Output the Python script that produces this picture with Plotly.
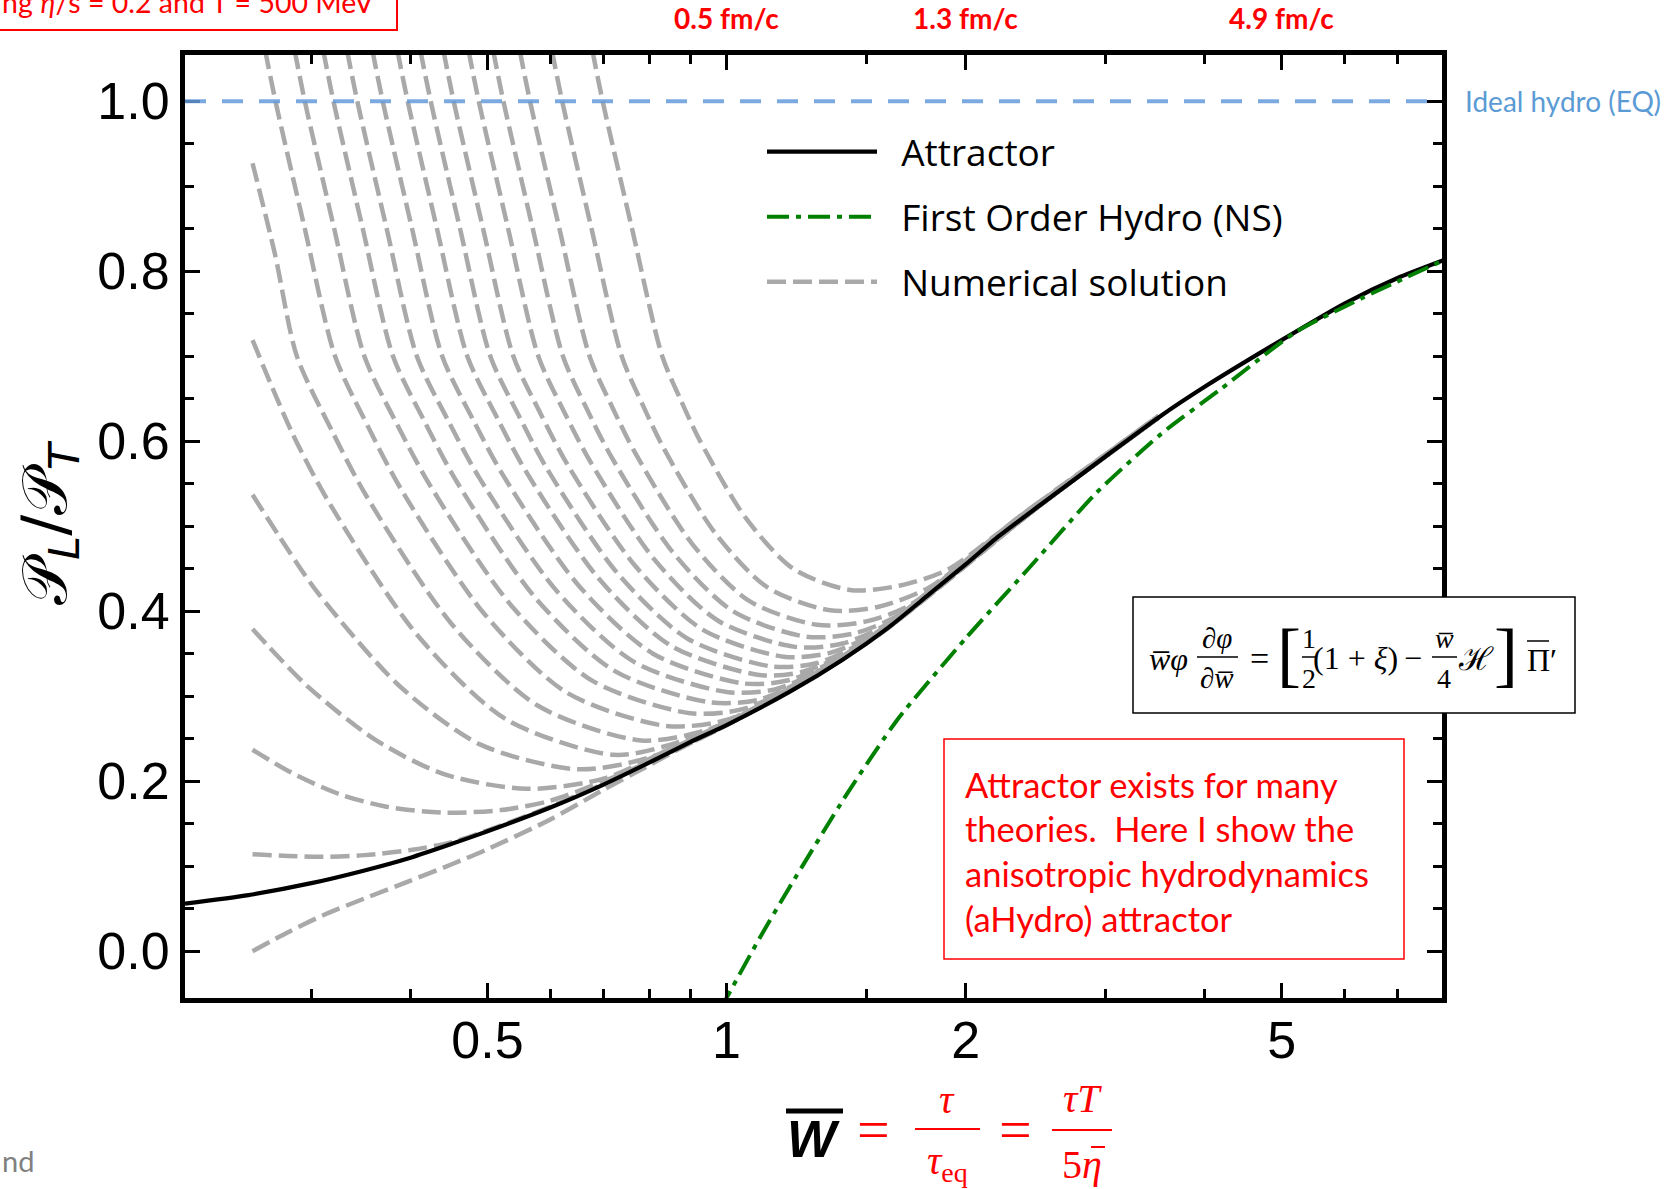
import math
import plotly.graph_objects as go

# ---------------- data ----------------
# Attractor (black solid)
ATT_W = [0.208, 0.25, 0.3, 0.35, 0.4, 0.45, 0.5, 0.6, 0.7, 0.8, 0.9, 1.0, 1.2, 1.4, 1.6,
         1.8, 2.0, 2.2, 2.5, 3.0, 3.5, 4.0, 5.0, 6.0, 7.0, 8.0]
ATT_P = [0.056, 0.066, 0.080, 0.095, 0.110, 0.126, 0.141, 0.169, 0.196, 0.222, 0.246, 0.266,
         0.305, 0.343, 0.381, 0.420, 0.455, 0.488, 0.527, 0.582, 0.628, 0.664, 0.719, 0.762,
         0.792, 0.813]

# First order hydro (Navier-Stokes, green dash-dot)
NS_W = [0.98, 1.1, 1.2, 1.42, 1.64, 2.0, 2.41, 2.92, 3.53, 4.2, 5.2, 6.3, 8.0]
NS_P = [-0.07, 0.015, 0.075, 0.186, 0.272, 0.368, 0.452, 0.539, 0.609, 0.662, 0.728, 0.768, 0.813]

# Numerical solutions (grey dashed)
NUM01_W = [0.253, 0.28, 0.31, 0.35, 0.4, 0.45, 0.5, 0.6, 0.7, 0.8, 0.9, 1.0, 1.5, 2.5, 3.5]
NUM01_P = [0.0, 0.022, 0.042, 0.062, 0.083, 0.102, 0.120, 0.155, 0.19, 0.219, 0.245, 0.266, 0.362, 0.527, 0.628]
NUM02_W = [0.253, 0.28, 0.31, 0.35, 0.4, 0.45, 0.5, 0.6, 0.7, 0.8, 1.0, 1.5, 2.5, 3.5]
NUM02_P = [0.114, 0.112, 0.111, 0.113, 0.119, 0.128, 0.142, 0.170, 0.197, 0.222, 0.266, 0.362, 0.527, 0.628]
NUM03_W = [0.253, 0.2832, 0.3249, 0.373, 0.44, 0.52, 0.6, 0.7, 0.8, 1.0, 1.5, 2.5, 3.5]
NUM03_P = [0.237, 0.210, 0.185, 0.170, 0.163, 0.166, 0.177, 0.200, 0.223, 0.266, 0.362, 0.527, 0.628]
NUM04_W = [0.253, 0.2972, 0.3622, 0.4416, 0.56, 0.7, 0.85, 1.0, 1.3, 1.6, 2.0, 2.5, 3.5]
NUM04_P = [0.379, 0.311, 0.248, 0.208, 0.191, 0.203, 0.238, 0.267, 0.325, 0.381, 0.455, 0.527, 0.628]
NUM05_W = [0.253, 0.2787, 0.3061, 0.3874, 0.49, 0.65, 0.8, 1.0, 1.3, 1.6, 2.0, 2.5, 3.5]
NUM05_P = [0.537, 0.476, 0.421, 0.312, 0.243, 0.214, 0.228, 0.27, 0.325, 0.381, 0.455, 0.527, 0.628]
NUM06_W = [0.253, 0.2834, 0.3144, 0.4071, 0.5272, 0.72, 0.85, 1.05, 1.4, 2.0, 2.5, 3.5]
NUM06_P = [0.719, 0.611, 0.531, 0.373, 0.273, 0.231, 0.243, 0.278, 0.344, 0.455, 0.527, 0.628]
NUM07_W = [0.253, 0.27, 0.2877, 0.3178, 0.3512, 0.4506, 0.5782, 0.78, 0.95, 1.15, 1.6, 2.0, 2.5, 3.5]
NUM07_P = [0.927, 0.82, 0.70, 0.614, 0.537, 0.385, 0.289, 0.248, 0.261, 0.298, 0.382, 0.455, 0.527, 0.628]
NUM08_W = [0.2624, 0.2704, 0.2944, 0.3214, 0.3537, 0.3895, 0.4953, 0.6296, 0.84, 1.0, 1.2, 1.6, 2.0, 2.5, 3.5]
NUM08_P = [1.06, 1.0, 0.85, 0.7, 0.617, 0.543, 0.397, 0.304, 0.265, 0.272, 0.307, 0.382, 0.455, 0.527, 0.628]
NUM09_W = [0.2858, 0.2944, 0.3206, 0.3499, 0.3846, 0.4227, 0.5353, 0.6779, 0.90, 1.05, 1.25, 1.6, 2.0, 2.5, 3.5]
NUM09_P = [1.06, 1.0, 0.85, 0.7, 0.620, 0.549, 0.407, 0.318, 0.28, 0.285, 0.318, 0.382, 0.455, 0.527, 0.628]
NUM10_W = [0.3105, 0.3199, 0.3483, 0.3802, 0.4167, 0.4566, 0.5741, 0.7215, 0.95, 1.1, 1.3, 1.7, 2.0, 2.5, 3.5]
NUM10_P = [1.06, 1.0, 0.85, 0.7, 0.623, 0.5535, 0.416, 0.330, 0.293, 0.296, 0.328, 0.402, 0.456, 0.527, 0.628]
NUM11_W = [0.3327, 0.3428, 0.3733, 0.4074, 0.4457, 0.4875, 0.6102, 0.7638, 1.0, 1.15, 1.35, 1.7, 2.0, 2.5, 3.5]
NUM11_P = [1.06, 1.0, 0.85, 0.7, 0.625, 0.558, 0.4245, 0.3406, 0.305, 0.308, 0.337, 0.403, 0.456, 0.527, 0.628]
NUM12_W = [0.3581, 0.3690, 0.4018, 0.4385, 0.4785, 0.5223, 0.6495, 0.8079, 1.05, 1.2, 1.4, 1.75, 2.0, 2.5, 3.5]
NUM12_P = [1.06, 1.0, 0.85, 0.7, 0.627, 0.561, 0.4315, 0.350, 0.315, 0.319, 0.347, 0.412, 0.457, 0.528, 0.628]
NUM13_W = [0.3850, 0.3967, 0.4319, 0.4716, 0.5132, 0.5585, 0.6903, 0.8531, 1.10, 1.25, 1.45, 1.8, 2.1, 2.5, 3.5]
NUM13_P = [1.06, 1.0, 0.85, 0.7, 0.629, 0.565, 0.4384, 0.3588, 0.325, 0.329, 0.356, 0.423, 0.473, 0.528, 0.628]
NUM14_W = [0.4115, 0.4241, 0.4618, 0.5041, 0.5469, 0.5933, 0.7278, 0.8924, 1.14, 1.3, 1.5, 1.85, 2.1, 2.5, 3.5]
NUM14_P = [1.06, 1.0, 0.85, 0.7, 0.631, 0.5686, 0.4454, 0.3679, 0.335, 0.339, 0.366, 0.432, 0.474, 0.529, 0.628]
NUM15_W = [0.4399, 0.4533, 0.4937, 0.5389, 0.5828, 0.6303, 0.7671, 0.9329, 1.18, 1.35, 1.55, 1.9, 2.2, 2.5, 3.5]
NUM15_P = [1.06, 1.0, 0.85, 0.7, 0.633, 0.5727, 0.4534, 0.3783, 0.3465, 0.351, 0.376, 0.442, 0.490, 0.529, 0.628]
NUM16_W = [0.4732, 0.4875, 0.5309, 0.5794, 0.6241, 0.6727, 0.8100, 0.9759, 1.22, 1.4, 1.6, 1.95, 2.2, 2.5, 3.5]
NUM16_P = [1.06, 1.0, 0.85, 0.7, 0.635, 0.577, 0.4615, 0.3888, 0.358, 0.362, 0.386, 0.450, 0.491, 0.530, 0.629]
NUM17_W = [0.5082, 0.5236, 0.5702, 0.6223, 0.6677, 0.7165, 0.8548, 1.0198, 1.26, 1.45, 1.65, 2.0, 2.25, 2.6, 3.5]
NUM17_P = [1.06, 1.0, 0.85, 0.7, 0.637, 0.5812, 0.4698, 0.3997, 0.370, 0.374, 0.396, 0.459, 0.499, 0.542, 0.629]
NUM18_W = [0.5489, 0.5656, 0.6160, 0.6722, 0.7180, 0.7673, 0.9045, 1.0666, 1.30, 1.5, 1.7, 2.05, 2.3, 2.6, 3.5]
NUM18_P = [1.06, 1.0, 0.85, 0.7, 0.640, 0.5862, 0.4796, 0.4124, 0.384, 0.388, 0.407, 0.467, 0.506, 0.543, 0.629]
NUM19_W = [0.6026, 0.6209, 0.6761, 0.7379, 0.7839, 0.8327, 0.9683, 1.1261, 1.35, 1.55, 1.8, 2.1, 2.35, 2.7, 3.5]
NUM19_P = [1.06, 1.0, 0.85, 0.7, 0.643, 0.5924, 0.4914, 0.4279, 0.401, 0.405, 0.428, 0.476, 0.513, 0.553, 0.63]
NUM20_W = [0.6776, 0.6982, 0.7603, 0.8299, 0.8761, 0.9253, 1.0600, 1.2143, 1.43, 1.65, 1.9, 2.2, 2.6, 3.0, 3.5]
NUM20_P = [1.06, 1.0, 0.85, 0.7, 0.648, 0.601, 0.5082, 0.4498, 0.425, 0.430, 0.449, 0.492, 0.542, 0.584, 0.63]

NUMERICAL = [(NUM01_W, NUM01_P), (NUM02_W, NUM02_P), (NUM03_W, NUM03_P), (NUM04_W, NUM04_P),
             (NUM05_W, NUM05_P), (NUM06_W, NUM06_P), (NUM07_W, NUM07_P), (NUM08_W, NUM08_P),
             (NUM09_W, NUM09_P), (NUM10_W, NUM10_P), (NUM11_W, NUM11_P), (NUM12_W, NUM12_P),
             (NUM13_W, NUM13_P), (NUM14_W, NUM14_P), (NUM15_W, NUM15_P), (NUM16_W, NUM16_P),
             (NUM17_W, NUM17_P), (NUM18_W, NUM18_P), (NUM19_W, NUM19_P), (NUM20_W, NUM20_P)]

IDEAL_VALUE = 1.0
X_TICK_VALS = [0.5, 1, 2, 5]
X_TICK_TEXT = ["0.5", "1", "2", "5"]
X_MINOR_VALS = [0.3, 0.4, 0.6, 0.7, 0.8, 0.9, 1.5, 3, 4, 6, 7]
Y_TICK_VALS = [0.0, 0.2, 0.4, 0.6, 0.8, 1.0]
Y_TICK_TEXT = ["0.0", "0.2", "0.4", "0.6", "0.8", "1.0"]
Y_MINOR_VALS = [0.05, 0.1, 0.15, 0.25, 0.3, 0.35, 0.45, 0.5, 0.55, 0.65, 0.7, 0.75, 0.85, 0.9, 0.95]
TIME_LABELS = ["0.5 fm/c", "1.3 fm/c", "4.9 fm/c"]
TIME_LABEL_W = [1, 2, 5]
X_RANGE_W = [0.208, 7.96]
Y_RANGE = [-0.0551, 1.0544]

# ---------------- geometry helpers ----------------
W, H = 1674, 1189
PL, PR, PT, PB = 185, 1442, 55, 998


def px(xp):
    return (xp - PL) / (PR - PL)


def py(yp):
    return (PB - yp) / (PB - PT)


RED = "#FF0000"
SANS = "Liberation Sans, Arial, sans-serif"
SERIF = "Liberation Serif, Times New Roman, serif"
CAL = "Lato, Carlito, Calibri, sans-serif"
NB = "\u00a0"

fig = go.Figure()

for i, (wv, pv) in enumerate(NUMERICAL):
    fig.add_trace(go.Scatter(
        x=wv, y=pv, mode="lines", name=NB * 2 + "Numerical solution",
        line=dict(color="#A9A9A9", width=4.5, dash="19px,7px", shape="spline", smoothing=0.8),
        showlegend=(i == 0), legendgroup="num", legendrank=3, hoverinfo="skip"))

fig.add_trace(go.Scatter(
    x=ATT_W, y=ATT_P, mode="lines", name=NB * 2 + "Attractor",
    line=dict(color="black", width=4.2, shape="spline", smoothing=0.6),
    legendgroup="att", legendrank=1, hoverinfo="skip"))

fig.add_trace(go.Scatter(
    x=NS_W, y=NS_P, mode="lines", name=NB * 2 + "First Order Hydro (NS)",
    line=dict(color="#008000", width=4, dash="22px,7px,5px,7px", shape="spline", smoothing=0.6),
    legendgroup="ns", legendrank=2, hoverinfo="skip"))

shapes = []
# ideal hydro line
shapes.append(dict(type="line", xref="paper", yref="y", x0=0, x1=1, y0=IDEAL_VALUE, y1=IDEAL_VALUE,
                   line=dict(color="rgba(100,155,220,0.85)", width=4, dash="21px,16px"), layer="above"))

annotations = []


def ann(text, xp, yp, size, color="black", family=SANS, xanchor="center", yanchor="middle", **kw):
    annotations.append(dict(text=text, x=px(xp), y=py(yp), xref="paper", yref="paper",
                            showarrow=False, xanchor=xanchor, yanchor=yanchor,
                            font=dict(size=size, color=color, family=family), **kw))


def hline(x0, x1, y, color="black", width=1.5):
    shapes.append(dict(type="line", xref="paper", yref="paper", x0=px(x0), x1=px(x1), y0=py(y), y1=py(y),
                       line=dict(color=color, width=width), layer="above"))


# Ideal hydro label
annotations.append(dict(text="Ideal hydro (EQ)", x=px(1463), y=IDEAL_VALUE, xref="paper", yref="y",
                        showarrow=False, xanchor="left", yanchor="middle",
                        font=dict(size=28, color="#5B9BD5", family=CAL)))

# time labels above the plot
for lab, wv in zip(TIME_LABELS, TIME_LABEL_W):
    annotations.append(dict(text="<b>" + lab + "</b>", x=math.log10(wv), y=py(18), xref="x", yref="paper",
                            showarrow=False, xanchor="center", yanchor="middle",
                            font=dict(size=28, color=RED, family=CAL)))

# top-left clipped red box
shapes.append(dict(type="rect", xref="paper", yref="paper", x0=px(-20), x1=px(397), y0=py(30), y1=py(-40),
                   line=dict(color=RED, width=2)))
ann("ng <i>η</i>/s = 0.2 and T = 500 MeV", 0, 2, 28.5, color=RED, family=CAL, xanchor="left")

# bottom-left grey fragment
ann("nd", 0, 1160, 29, color="#808080", family=CAL, xanchor="left")

# y-axis title
ann("𝒫<sub><i>L</i></sub>/𝒫<sub><i>T</i></sub>", 48, 523, 62, textangle=-90, family="DejaVu Sans, sans-serif")

# x-axis title built from pieces
ann("<b><i>W</i></b>", 813, 1139, 52)
hline(786, 843, 1111, width=5)
ann("=", 874, 1129, 58, color=RED, family=SERIF)
ann("<i>τ</i>", 947, 1099, 40, color=RED, family=SERIF)
hline(915, 980, 1129, color=RED, width=2)
ann("<i>τ</i><sub>eq</sub>", 947, 1163, 40, color=RED, family=SERIF)
ann("=", 1015, 1129, 58, color=RED, family=SERIF)
ann("<i>τT</i>", 1082, 1098, 40, color=RED, family=SERIF)
hline(1052, 1112, 1130, color=RED, width=2)
ann("5<i>η</i>", 1082, 1164, 40, color=RED, family=SERIF)
hline(1091, 1105, 1147, color=RED, width=2)

# equation box
shapes.append(dict(type="rect", xref="paper", yref="paper", x0=px(1133), x1=px(1575), y0=py(713), y1=py(597),
                   line=dict(color="black", width=1.5), fillcolor="white", layer="above"))
ann("<i>w̅φ</i>", 1168, 659, 32, family=SERIF)
ann("∂<i>φ</i>", 1217, 638, 29, family=SERIF)
hline(1197, 1238, 657)
ann("∂<i>w̅</i>", 1217, 678, 29, family=SERIF)
ann("=", 1259, 658, 34, family=SERIF)
ann("[", 1289, 654, 72, family=SERIF)
ann("1", 1309, 638, 28, family=SERIF)
hline(1302, 1317, 657)
ann("2", 1309, 678, 28, family=SERIF)
ann("(1 + <i>ξ</i>)", 1355, 658, 32, family=SERIF)
ann("−", 1413, 658, 32, family=SERIF)
ann("<i>w̅</i>", 1444, 638, 28, family=SERIF)
hline(1432, 1457, 657)
ann("4", 1444, 678, 28, family=SERIF)
ann("ℋ", 1476, 659, 32, family=SERIF)
ann("]", 1506, 654, 72, family=SERIF)
ann("Π′", 1542, 660, 32, family=SERIF)
hline(1527, 1549, 641)

# red explanatory box
shapes.append(dict(type="rect", xref="paper", yref="paper", x0=px(944), x1=px(1404), y0=py(959), y1=py(739),
                   line=dict(color=RED, width=1.5), fillcolor="white", layer="above"))
RED_LINES = ["Attractor exists for many", "theories.\u00a0 Here I show the", "anisotropic hydrodynamics",
             "(aHydro) attractor"]
for txt, yy in zip(RED_LINES, [784, 828, 873, 918]):
    ann(txt, 963, yy, 34.5, color=RED, family=CAL, xanchor="left")

axis_common = dict(showline=True, linewidth=5, linecolor="black", mirror="allticks",
                   ticks="inside", ticklen=15, tickwidth=3, tickcolor="black",
                   showgrid=False, zeroline=False,
                   tickfont=dict(size=52, color="black", family=SANS))

fig.update_layout(
    width=W, height=H, autosize=False,
    margin=dict(l=PL, r=W - PR, t=PT, b=H - PB, pad=0),
    paper_bgcolor="white", plot_bgcolor="white",
    xaxis=dict(type="log", range=[math.log10(X_RANGE_W[0]), math.log10(X_RANGE_W[1])],
               tickmode="array", tickvals=X_TICK_VALS, ticktext=X_TICK_TEXT,
               ticklabelstandoff=-7,
               minor=dict(tickmode="array", tickvals=X_MINOR_VALS, ticks="inside", ticklen=9,
                          tickwidth=2.5, tickcolor="black", showgrid=False),
               **axis_common),
    yaxis=dict(range=Y_RANGE, tickmode="array", tickvals=Y_TICK_VALS, ticktext=Y_TICK_TEXT,
               minor=dict(tickmode="array", tickvals=Y_MINOR_VALS, ticks="inside", ticklen=9,
                          tickwidth=2.5, tickcolor="black", showgrid=False),
               **axis_common),
    showlegend=True,
    legend=dict(x=px(762), y=py(121), xanchor="left", yanchor="top",
                font=dict(size=37, color="black", family="Open Sans, sans-serif"),
                itemwidth=110, traceorder="grouped", tracegroupgap=14,
                bgcolor="rgba(0,0,0,0)", borderwidth=0),
    shapes=shapes,
    annotations=annotations,
)

fig.write_html("out.html", config={"displayModeBar": False},
               post_script="document.body.style.margin='0';")
